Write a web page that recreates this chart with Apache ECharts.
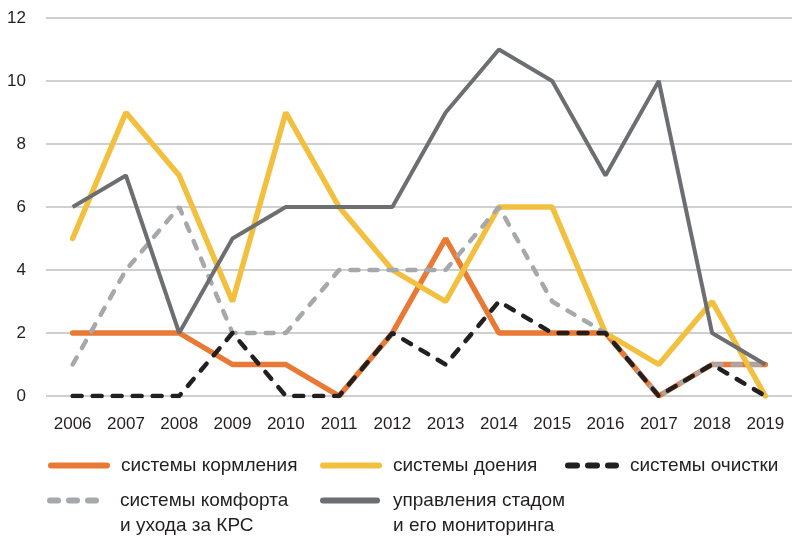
<!DOCTYPE html>
<html>
<head>
<meta charset="utf-8">
<script src="https://cdn.jsdelivr.net/npm/echarts@6/dist/echarts.min.js"></script>
<style>
  html, body { margin: 0; padding: 0; background: #fff; }
  #chart { width: 792px; height: 536px; }
</style>
</head>
<body>
<div id="chart"></div>
<script>
// годы
var years = ['2006', '2007', '2008', '2009', '2010', '2011', '2012', '2013', '2014', '2015', '2016', '2017', '2018', '2019'];
// серии
var feeding = [2, 2, 2, 1, 1, 0, 2, 5, 2, 2, 2, 0, 1, 1];
var milking = [5, 9, 7, 3, 9, 6, 4, 3, 6, 6, 2, 1, 3, 0];
var cleaning = [0, 0, 0, 2, 0, 0, 2, 1, 3, 2, 2, 0, 1, 0];
var comfort = [1, 4, 6, 2, 2, 4, 4, 4, 6, 3, 2, 0, 1, 1];
var herd = [6, 7, 2, 5, 6, 6, 6, 9, 11, 10, 7, 10, 2, 1];
var yTicks = [0, 2, 4, 6, 8, 10, 12];

var names = ['системы кормления', 'системы доения', 'системы очистки',
    'системы комфорта\nи ухода за КРС', 'управления стадом\nи его мониторинга'];

var font = '"Liberation Sans", Arial, sans-serif';
var myChart = echarts.init(document.getElementById('chart'));

// одна легенда на каждую серию, чтобы расставить их сеткой
function leg(name, left, top, w, pad, twoLines) {
    return {
        data: [name],
        left: left,
        top: top,
        padding: 0,
        itemWidth: w,
        itemHeight: 26,
        itemGap: 0,
        selectedMode: false,
        itemStyle: { opacity: 0 },
        lineStyle: { width: 6, cap: 'round' },
        // пустая первая строка, чтобы значок стоял напротив первой строки текста
        formatter: function (n) {
            return twoLines ? '\n' + n : n;
        },
        textStyle: {
            fontFamily: font, fontSize: 19, color: '#231f20', lineHeight: 25,
            padding: [0, 0, 0, pad]
        }
    };
}

var option = {
    animation: false,
    grid: { left: 46, right: 0, top: 18, bottom: 140 },
    legend: [
        leg(names[0], 48, 453, 56, 9, false),
        leg(names[1], 320, 453, 56, 9, false),
        leg(names[2], 565, 453, 48, 9, false),
        leg(names[3], 47, 463, 50, 15, true),
        leg(names[4], 320, 463, 54, 11, true)
    ],
    xAxis: {
        type: 'category',
        data: years,
        axisLine: { show: false },
        axisTick: { show: false },
        axisLabel: { margin: 20, fontFamily: font, fontSize: 17, color: '#231f20' }
    },
    yAxis: {
        type: 'value',
        min: yTicks[0],
        max: yTicks[yTicks.length - 1],
        interval: 2,
        axisLabel: { margin: 20, fontFamily: font, fontSize: 17, color: '#231f20' },
        splitLine: { lineStyle: { color: '#bfbfc1', width: 1.5 } }
    },
    series: [
        {
            name: names[0], type: 'line', data: feeding, symbol: 'none', z: 2,
            itemStyle: { color: '#e97a36' },
            lineStyle: { color: '#e97a36', width: 5.5, cap: 'round' }
        },
        {
            name: names[1], type: 'line', data: milking, symbol: 'none', z: 3,
            itemStyle: { color: '#f2c03e' },
            lineStyle: { color: '#f2c03e', width: 5.5, cap: 'round' }
        },
        {
            name: names[2], type: 'line', data: cleaning, symbol: 'none', z: 6,
            itemStyle: { color: '#231f20' },
            lineStyle: { color: '#231f20', width: 4.5, type: [9, 11], cap: 'round' }
        },
        {
            name: names[3], type: 'line', data: comfort, symbol: 'none', z: 4,
            itemStyle: { color: '#a7a8ab' },
            lineStyle: { color: '#a7a8ab', width: 4.5, type: [8, 11], cap: 'round' }
        },
        {
            name: names[4], type: 'line', data: herd, symbol: 'none', z: 5,
            itemStyle: { color: '#6d6e71' },
            lineStyle: { color: '#6d6e71', width: 4 }
        }
    ]
};
myChart.setOption(option);
</script>
</body>
</html>
